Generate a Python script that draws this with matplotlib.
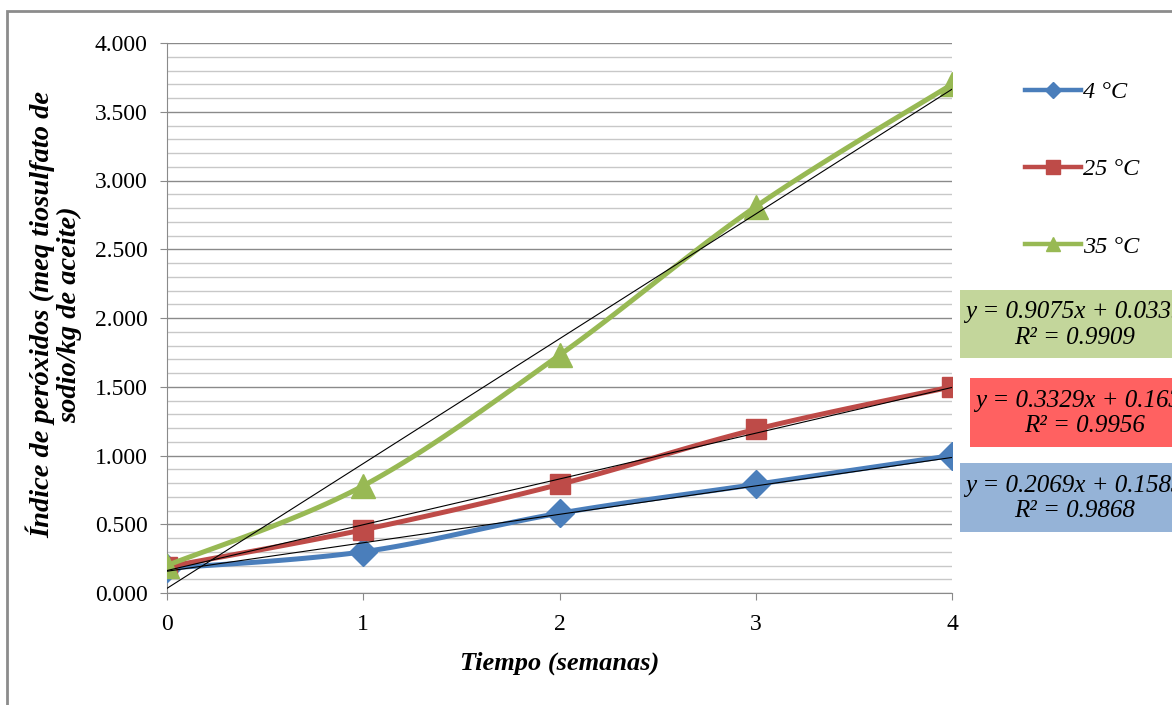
import matplotlib.pyplot as plt
from matplotlib.patches import Rectangle
from matplotlib.ticker import MultipleLocator, FormatStrFormatter
import numpy as np

# data
semanas = [0, 1, 2, 3, 4]
serie_4 = [0.18, 0.30, 0.58, 0.79, 1.00]
serie_25 = [0.19, 0.46, 0.79, 1.19, 1.50]
serie_35 = [0.20, 0.78, 1.73, 2.81, 3.70]
etiquetas = ["4 °C", "25 °C", "35 °C"]
pendientes = [0.2069, 0.3329, 0.9075]
intercepts = [0.1583, 0.1635, 0.0339]
r2 = [0.9868, 0.9956, 0.9909]

colores = ["#4A7EBB", "#BE4B48", "#98B954"]
marcadores = ["D", "s", "^"]
tam_marc = [14, 15, 17]
tam_leyenda = [8, 10, 10]

plt.rcParams['font.family'] = ['Liberation Serif', 'DejaVu Serif']


def suavizar(x, y, n=30):
    # excel-like smoothed line: bezier through points, catmull-rom control points
    x = np.asarray(x, float)
    y = np.asarray(y, float)
    pts = np.column_stack([x, y])
    out = []
    for i in range(len(pts) - 1):
        p0 = pts[i - 1] if i > 0 else pts[i]
        p1 = pts[i]
        p2 = pts[i + 1]
        p3 = pts[i + 2] if i + 2 < len(pts) else pts[i + 1]
        c1 = p1 + (p2 - p0) / 6
        c2 = p2 - (p3 - p1) / 6
        t = np.linspace(0, 1, n)[:, None]
        seg = ((1 - t) ** 3 * p1 + 3 * (1 - t) ** 2 * t * c1
               + 3 * (1 - t) * t ** 2 * c2 + t ** 3 * p2)
        out.append(seg if i == 0 else seg[1:])
    out = np.vstack(out)
    return out[:, 0], out[:, 1]


fig = plt.figure(figsize=(11.72, 7.05), dpi=100)
ax = fig.add_axes([167 / 1172, 1 - 593 / 705, (952 - 167) / 1172, (593 - 43) / 705])

# outer frame of the excel chart
fig.patches.append(Rectangle((7 / 1172, -0.1), 1.2, 1 - 11 / 705 + 0.1,
                             transform=fig.transFigure, fill=False,
                             edgecolor="#8C8C8C", lw=2))

series = [serie_4, serie_25, serie_35]
handles = []
for i, ys in enumerate(series):
    xs, yy = suavizar(semanas, ys)
    ax.plot(xs, yy, color=colores[i], lw=3.6, solid_capstyle='round', zorder=3 + i)
    ax.plot(semanas, ys, ls='none', marker=marcadores[i], ms=tam_marc[i],
            color=colores[i], zorder=3 + i)
    h, = ax.plot([], [], color=colores[i], lw=3.2, marker=marcadores[i],
                 ms=tam_leyenda[i], label=etiquetas[i])
    handles.append(h)

# linear trendlines
xt = np.array([semanas[0], semanas[-1]], float)
for m, b in zip(pendientes, intercepts):
    ax.plot(xt, m * xt + b, color="black", lw=0.8, zorder=10)

ax.set_xlim(0, 4)
ax.set_ylim(0, 4)
ax.xaxis.set_major_locator(MultipleLocator(1))
ax.yaxis.set_major_locator(MultipleLocator(0.5))
ax.yaxis.set_minor_locator(MultipleLocator(0.1))
ax.yaxis.set_major_formatter(FormatStrFormatter('%.3f'))
ax.grid(axis='y', which='major', color="#8A8A8A", lw=1)
ax.grid(axis='y', which='minor', color="#C8C8C8", lw=1)
ax.set_axisbelow(True)
for s in ['top', 'right']:
    ax.spines[s].set_visible(False)
for s in ['left', 'bottom']:
    ax.spines[s].set_color("#8A8A8A")
ax.tick_params(axis='both', which='major', direction='out', length=5,
               color="#8A8A8A", labelsize=17)
ax.tick_params(axis='y', which='major', pad=9)
ax.tick_params(axis='x', which='major', pad=10)
ax.tick_params(axis='y', which='minor', length=0)

ax.set_xlabel("Tiempo (semanas)", fontsize=19, fontweight='bold',
              fontstyle='italic', va='center')
ax.xaxis.set_label_coords(0.5, -(663 - 593) / 550)
ax.set_ylabel("Índice de peróxidos (meq tiosulfato de\nsodio/kg de aceite)",
              fontsize=20.5, fontweight='bold', fontstyle='italic',
              va='center', linespacing=1.1)
ax.yaxis.set_label_coords((54 - 167) / 785, 1 - (315 - 43) / 550)

leg = fig.legend(handles=handles, loc='upper left',
                 bbox_to_anchor=(1025 / 1172, 1 - 81 / 705),
                 frameon=False, handlelength=2.3, handletextpad=0.1,
                 borderpad=0, borderaxespad=0,
                 labelspacing=2.28, prop={'size': 17.5, 'style': 'italic'})

# equation boxes (text runs past the right edge, as in the original)
cajas = [
    (960, 290, 358, "#C3D69B", 2),
    (970, 378, 447, "#FF6161", 1),
    (960, 463, 532, "#95B3D7", 0),
]
for izq, arr, ab, col, k in cajas:
    fig.patches.append(Rectangle((izq / 1172, 1 - ab / 705), 0.5, (ab - arr) / 705,
                                 transform=fig.transFigure, color=col, lw=0))
    txt = f"y = {pendientes[k]:.4f}x + {intercepts[k]:.4f}\nR² = {r2[k]:.4f}"
    fig.text((izq + 5) / 1172, 1 - ((arr + ab) / 2 + 1) / 705, txt, ha='left',
             va='center', multialignment='center', fontsize=18,
             fontstyle='italic', linespacing=1.22)

fig.savefig("out.png", dpi=100)
